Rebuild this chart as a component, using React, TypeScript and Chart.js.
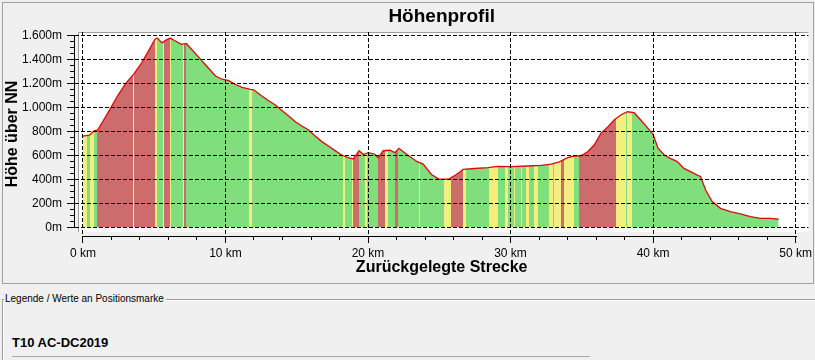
import React, { useEffect, useRef } from 'react';
import { Chart, registerables } from 'chart.js';

Chart.register(...registerables);

// ---- data ----
const distanceKm = [
  0, 0.45, 0.8, 1.03, 1.45, 1.93, 2.45, 3.03, 3.55, 4.13, 4.6, 5.05, 5.21, 5.55, 5.82, 6.12, 6.45, 6.9, 7.25, 7.58,
  8.13, 8.7, 9.3, 9.77, 10.23, 10.7, 11.17, 11.75, 11.98, 12.45, 13.03, 13.5, 13.97, 14.43, 14.9, 15.36, 15.83, 16.29,
  16.76, 17.22, 17.69, 18.2, 18.62, 18.97, 19.37, 19.67, 20.02, 20.44, 20.72, 21.07, 21.54, 21.89, 22.17, 22.75, 23.45,
  23.87, 24.45, 24.97, 25.66, 26.15, 26.68, 27.48, 28.41, 29.11, 30.05, 31.21, 32.15, 32.85, 33.43, 34.01, 34.48, 34.94,
  35.41, 35.87, 36.34, 36.8, 37.27, 37.74, 38.2, 38.67, 39.14, 39.6, 40.0, 40.35, 40.77, 41.24, 41.7, 42.17, 42.87,
  43.34, 43.69, 44.15, 44.73, 45.43, 46.13, 46.83, 47.53, 48.23, 48.81,
];
const elevationM = [
  760, 768, 805, 810, 894, 991, 1100, 1203, 1275, 1372, 1470, 1568, 1577, 1537, 1560, 1577, 1555, 1525, 1532, 1488,
  1416, 1340, 1261, 1234, 1222, 1190, 1166, 1150, 1146, 1102, 1055, 1019, 972, 927, 880, 844, 811, 761,
  714, 677, 639, 598, 580, 570, 638, 606, 622, 611, 580, 638, 642, 622, 658, 605, 547,
  527, 440, 402, 402, 436, 483, 490, 497, 508, 505, 511, 516, 527, 545, 580, 594, 596,
  630, 686, 783, 833, 894, 936, 963, 955, 894, 830, 775, 660, 605, 572, 547, 491, 450,
  422, 311, 214, 158, 130, 111, 89, 75, 75, 67,
];
// gradient class bands: start of each band (km) and its class
const stripeStartKm = [
  0, 0.3, 0.5, 0.77, 1.0, 3.48, 3.58, 5.06, 5.17, 5.62, 5.72, 6.08, 6.18, 7.01, 7.08, 7.2, 11.65, 11.85, 18.27, 18.4,
  18.9, 18.98, 19.35, 19.78, 19.96, 20.7, 21.19, 21.4, 21.9, 22.12, 23.55, 23.68, 25.35, 25.8, 26.66, 26.9, 28.5, 29.12,
  29.58, 29.8, 30.26, 30.34, 30.72, 30.8, 31.1, 31.33, 31.68, 31.91, 32.73, 32.96, 33.08, 33.55, 33.78, 34.48, 34.83,
  37.39, 38.09, 38.2, 38.55,
];
const stripeClass = [
  'Y', 'G', 'Y', 'G', 'R', 'Y', 'R', 'Y', 'G', 'Y', 'R', 'Y', 'G', 'Y', 'R', 'G', 'Y', 'G', 'Y', 'G',
  'Y', 'R', 'G', 'Y', 'G', 'R', 'Y', 'G', 'R', 'G', 'Y', 'G', 'Y', 'R', 'Y', 'G', 'Y', 'G',
  'Y', 'G', 'Y', 'G', 'Y', 'G', 'Y', 'G', 'Y', 'G', 'Y', 'G', 'Y', 'R', 'Y', 'G', 'R',
  'Y', 'G', 'Y', 'G',
];
const xTickLabels = ['0 km', '10 km', '20 km', '30 km', '40 km', '50 km'];
const yTickLabels = ['0m', '200m', '400m', '600m', '800m', '1.000m', '1.200m', '1.400m', '1.600m'];
const X_MAJOR = 10;
const X_MINOR = 2;
const Y_MAJOR = 200;
const Y_MINOR = 50;

// ---- styles ----
const FONT = "'Liberation Sans', Arial, sans-serif";
const PALETTE: Record<string, string> = { G: '#80df7c', Y: '#f2ee80', R: '#cc6c6c' };

const xTickValues: number[] = [];
for (let v = 0; v <= (xTickLabels.length - 1) * X_MAJOR; v += X_MINOR) xTickValues.push(v);
const yTickValues: number[] = [];
for (let v = 0; v <= (yTickLabels.length - 1) * Y_MAJOR; v += Y_MINOR) yTickValues.push(v);

function stripeFill(chart: any) {
  const xs = chart.scales && chart.scales.x;
  if (!xs || !chart.chartArea) return PALETTE.G;
  const lastKm = distanceKm[distanceKm.length - 1];
  const x0 = xs.getPixelForValue(stripeStartKm[0]);
  const x1 = xs.getPixelForValue(lastKm);
  if (!(x1 > x0)) return PALETTE.G;
  const g = chart.ctx.createLinearGradient(x0, 0, x1, 0);
  const off = (km: number) => Math.min(1, Math.max(0, (xs.getPixelForValue(km) - x0) / (x1 - x0)));
  for (let i = 0; i < stripeStartKm.length; i++) {
    const a = stripeStartKm[i];
    const b = i + 1 < stripeStartKm.length ? stripeStartKm[i + 1] : lastKm;
    const c = PALETTE[stripeClass[i]];
    g.addColorStop(off(a), c);
    g.addColorStop(off(b), c);
  }
  return g;
}

const framePlugin = {
  id: 'frame',
  beforeDraw(chart: any) {
    const { ctx, chartArea: a } = chart;
    ctx.save();
    ctx.fillStyle = '#ffffff';
    ctx.fillRect(a.left + 3, a.top, a.right - a.left - 3, a.bottom - a.top - 4);
    ctx.strokeStyle = '#9c9c9c';
    ctx.lineWidth = 1;
    ctx.beginPath();
    ctx.moveTo(a.left + 3.5, a.bottom - 4);
    ctx.lineTo(a.left + 3.5, a.top + 0.5);
    ctx.lineTo(a.right, a.top + 0.5);
    ctx.stroke();
    ctx.restore();
  },
  afterDraw(chart: any) {
    const { ctx, chartArea: a, scales } = chart;
    const xs = scales.x;
    const ys = scales.y;
    ctx.save();
    ctx.strokeStyle = '#000';
    ctx.lineWidth = 1;
    ctx.beginPath();
    const yb = Math.round(a.bottom) + 0.5;
    ctx.moveTo(Math.round(xs.getPixelForValue(xTickValues[0])), yb);
    ctx.lineTo(Math.round(xs.getPixelForValue(xTickValues[xTickValues.length - 1])) + 1, yb);
    const xl = Math.round(a.left) - 0.5;
    ctx.moveTo(xl, Math.round(ys.getPixelForValue(yTickValues[0])) + 1);
    ctx.lineTo(xl, Math.round(ys.getPixelForValue(yTickValues[yTickValues.length - 1])));
    ctx.stroke();
    ctx.restore();
  },
};

export default function App() {
  const canvasRef = useRef<HTMLCanvasElement | null>(null);

  useEffect(() => {
    const canvas = canvasRef.current;
    if (!canvas) return;
    const isMajorX = (v: number) => Math.abs(v % X_MAJOR) < 1e-6;
    const isMajorY = (v: number) => Math.abs(v % Y_MAJOR) < 1e-6;
    const chart = new Chart(canvas, {
      type: 'line',
      data: {
        datasets: [
          {
            label: 'T10 AC-DC2019',
            data: distanceKm.map((x, i) => ({ x, y: elevationM[i] })),
            borderColor: '#e00808',
            borderWidth: 1.3,
            pointRadius: 0,
            tension: 0,
            fill: 'origin',
            backgroundColor: (ctx: any) => stripeFill(ctx.chart),
          },
        ],
      },
      options: {
        responsive: false,
        animation: false,
        devicePixelRatio: 1,
        layout: { padding: { left: 2, right: 4, top: 0, bottom: 0 } },
        plugins: {
          legend: { display: false },
          tooltip: { enabled: false },
          title: {
            display: true,
            text: 'Höhenprofil',
            fullSize: false,
            color: '#000',
            font: { family: FONT, size: 19, weight: 'bold' },
            padding: { top: 5, bottom: 4.2 },
          },
        },
        scales: {
          x: {
            type: 'linear',
            min: -0.56,
            max: 50.9,
            afterBuildTicks: (s: any) => {
              s.ticks = xTickValues.map((v) => ({ value: v }));
            },
            afterFit: (s: any) => {
              s.height = 49;
            },
            ticks: {
              autoSkip: false,
              maxRotation: 0,
              padding: 3,
              color: '#000',
              font: { family: FONT, size: 12 },
              callback: (v: any) => (isMajorX(Number(v)) ? xTickLabels[Math.round(Number(v) / X_MAJOR)] : ''),
            },
            grid: {
              z: 1,
              lineWidth: 1,
              color: (c: any) => (c.tick && isMajorX(c.tick.value) ? '#000' : 'rgba(0,0,0,0)'),
              tickLength: 7,
              tickColor: '#000',
              tickBorderDash: (c: any) => (c.tick && isMajorX(c.tick.value) ? [] : [4, 30]),
            },
            border: { display: false, dash: [4, 2] },
            title: {
              display: true,
              text: 'Zurückgelegte Strecke',
              color: '#000',
              font: { family: FONT, size: 16, weight: 'bold' },
              padding: { top: 0, bottom: 7.4 },
            },
          },
          y: {
            type: 'linear',
            min: -72.5,
            max: 1627.5,
            afterBuildTicks: (s: any) => {
              s.ticks = yTickValues.map((v) => ({ value: v }));
            },
            afterFit: (s: any) => {
              s.width = 73;
            },
            ticks: {
              autoSkip: false,
              padding: 5,
              color: '#000',
              font: { family: FONT, size: 12 },
              callback: (v: any) => (isMajorY(Number(v)) ? yTickLabels[Math.round(Number(v) / Y_MAJOR)] : ''),
            },
            grid: {
              z: 1,
              lineWidth: 1,
              color: (c: any) => (c.tick && isMajorY(c.tick.value) ? '#000' : 'rgba(0,0,0,0)'),
              tickLength: 8,
              tickColor: '#000',
              tickBorderDash: (c: any) => (c.tick && isMajorY(c.tick.value) ? [] : [0, 3, 5, 30]),
            },
            border: { display: false, dash: [4, 2] },
            title: {
              display: true,
              text: 'Höhe über NN',
              color: '#000',
              font: { family: FONT, size: 16, weight: 'bold' },
              padding: { top: 0.5, bottom: 0 },
            },
          },
        },
      } as any,
      plugins: [framePlugin],
    });
    return () => chart.destroy();
  }, []);

  return (
    <div
      style={{
        position: 'absolute',
        left: 0,
        top: 0,
        width: 815,
        height: 360,
        background: '#f0f0f0',
        overflow: 'hidden',
        fontFamily: FONT,
      }}
    >
      <div
        style={{
          position: 'absolute',
          left: 2,
          top: 2,
          width: 810,
          height: 280,
          border: '1px solid #a0a0a0',
        }}
      />
      <canvas
        ref={canvasRef}
        width={815}
        height={285}
        style={{ position: 'absolute', left: 0, top: 0, width: 815, height: 285 }}
      />
      <div
        style={{
          position: 'absolute',
          left: 2,
          top: 299,
          width: 813,
          height: 70,
          borderTop: '1px solid #a0a0a0',
          borderLeft: '1px solid #a0a0a0',
          boxShadow: 'inset 1px 1px 0 #ffffff',
        }}
      />
      <div
        style={{
          position: 'absolute',
          left: 4,
          top: 292,
          padding: '0 2px 0 1px',
          background: '#f0f0f0',
          fontSize: 10,
          lineHeight: '14px',
          color: '#000',
          whiteSpace: 'nowrap',
        }}
      >
        Legende / Werte an Positionsmarke
      </div>
      <div
        style={{
          position: 'absolute',
          left: 12,
          top: 335,
          fontSize: 13,
          lineHeight: '16px',
          fontWeight: 'bold',
          color: '#000',
          whiteSpace: 'nowrap',
        }}
      >
        T10 AC-DC2019
      </div>
      <div
        style={{
          position: 'absolute',
          left: 12,
          top: 356,
          width: 578,
          height: 0,
          borderTop: '1px solid #a8a8a8',
        }}
      />
    </div>
  );
}
